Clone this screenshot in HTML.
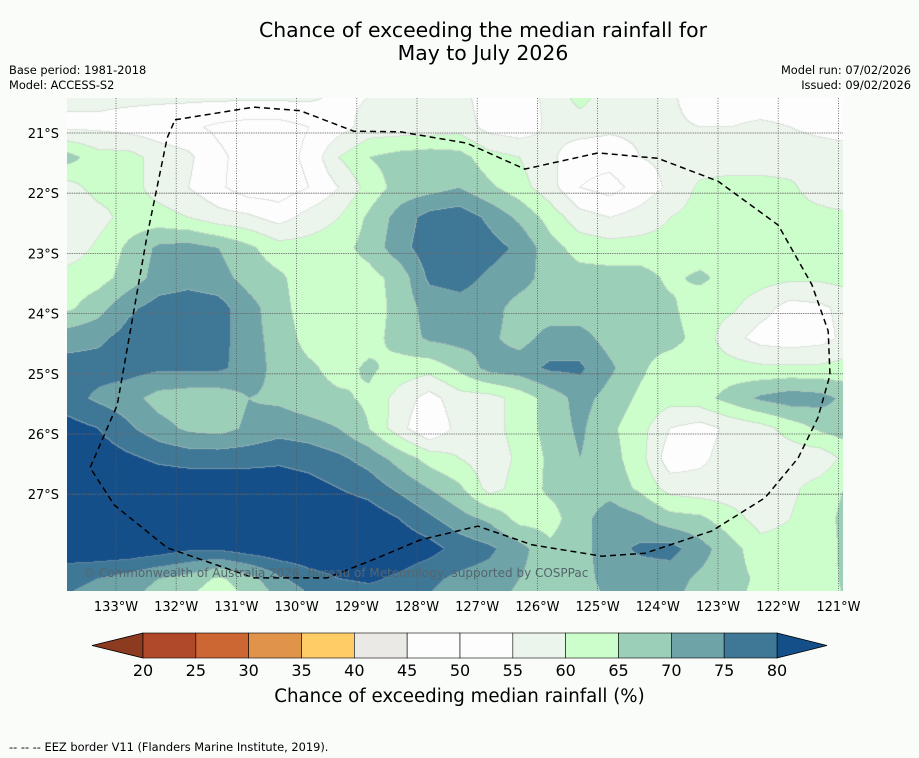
<!DOCTYPE html>
<html><head><meta charset="utf-8">
<style>
body{margin:0;background:#fafcfa;font-family:"DejaVu Sans","Liberation Sans",sans-serif;}
#wrap{position:relative;width:919px;height:758px;overflow:hidden;background:#fafcfa;}
.t{position:absolute;white-space:nowrap;color:#000;}
</style></head><body>
<div id="wrap">
<div class="t" style="left:0;width:966px;text-align:center;top:19px;font-size:20.4px;line-height:23px;">Chance of exceeding the median rainfall for<br>May to July 2026</div>
<div class="t" style="left:9px;top:63px;font-size:11.4px;line-height:15px;">Base period: 1981-2018<br>Model: ACCESS-S2</div>
<div class="t" style="right:8px;top:63px;font-size:11.4px;line-height:15px;text-align:right;">Model run: 07/02/2026<br>Issued: 09/02/2026</div>
<canvas id="map" width="776" height="493" style="position:absolute;left:67px;top:98px;"></canvas>
<svg id="ov" width="919" height="758" style="position:absolute;left:0;top:0;font-family:'DejaVu Sans',sans-serif;"></svg>
<div class="t" style="left:83px;top:566px;font-size:12px;color:#55656d;">© Commonwealth of Australia 2026, Bureau of Meteorology, supported by COSPPac</div>
<div class="t" style="left:0;width:919px;text-align:center;top:686px;font-size:18.2px;">Chance of exceeding median rainfall (%)</div>
<div class="t" style="left:9px;top:740px;font-size:11.4px;">--  --  -- EEZ border V11 (Flanders Marine Institute, 2019).</div>
</div>
<script>
const gridLons=[133.8,133.3,132.8,132.3,131.8,131.3,130.8,130.3,129.8,129.3,128.8,128.3,127.8,127.3,126.8,126.3,125.8,125.3,124.8,124.3,123.8,123.3,122.8,122.3,121.8,121.3,120.8];
const gridLats=[20.4,20.9,21.4,21.9,22.4,22.9,23.4,23.9,24.4,24.9,25.4,25.9,26.4,26.9,27.4,27.9,28.4,28.9];
const chance=[
[56,56,56,56,56,56,56,56,56,54,55,55,55,57,52,53,56,62,57,57,56,52,52,52,52,52,52],
[54,54,53,52,51,49,48,48,50,53,57,57,57,58,53,52,56,57,56,56,56,55,55,56,55,54,53],
[67,62,62,58,56,51,48,48,51,60,65,67,68,67,62,60,56,52,52,55,56,57,57,57,57,57,57],
[58,62,62,58,55,51,47,47,50,55,62,67,68,70,66,62,57,50,48,52,56,61,62,62,61,57,55],
[55,58,62,62,60,57,56,53,57,60,66,72,77,78,74,69,63,57,55,57,60,62,62,62,62,62,61],
[57,61,66,71,72,70,66,62,62,63,67,73,78,78,77,74,67,63,62,62,62,62,62,62,62,61,60],
[62,63,67,72,73,72,68,66,62,62,63,67,76,77,74,72,68,67,67,67,64,66,63,62,61,61,62],
[64,68,74,77,78,77,72,67,62,62,62,67,72,73,72,68,67,67,67,67,66,62,61,57,53,54,57],
[73,74,77,78,78,77,72,68,63,62,63,67,71,72,71,68,72,72,68,67,67,63,57,53,52,53,57],
[77,77,77,76,76,76,73,68,66,63,66,63,62,66,72,73,76,76,71,66,62,62,62,61,61,61,62],
[77,74,72,68,67,67,70,69,67,66,64,58,53,58,58,62,67,72,68,64,62,63,67,71,73,72,68],
[82,80,76,72,69,68,71,73,72,70,65,57,50,57,58,62,67,71,66,62,55,53,56,58,62,66,68],
[84,83,81,79,78,78,78,79,78,76,73,68,63,60,57,61,66,70,67,62,52,54,57,57,57,57,62],
[84,84,84,84,84,84,84,83,82,80,78,74,70,66,58,62,66,67,68,64,58,57,57,57,59,62,66],
[84,84,84,84,84,84,84,84,84,84,83,80,76,72,69,63,63,68,73,71,67,66,62,58,60,63,67],
[84,84,84,83,81,81,83,84,84,84,84,84,82,78,76,72,66,68,73,76,77,72,67,62,62,61,68],
[76,75,73,70,68,64,68,74,78,80,81,79,76,74,73,70,67,68,72,72,72,69,67,64,62,62,67],
[74,73,70,66,63,60,64,68,72,74,75,76,74,72,71,68,67,67,70,70,70,68,66,63,61,61,66]
];
const levels=[20,25,30,35,40,45,50,55,60,65,70,75,80];
const levelColors=["#b0482a","#cc6633","#e0944a","#ffcc66","#ebe9e6","#fcfdfc","#fcfdfc","#ebf5eb","#ccfecc","#9ccfb8","#6ea3a8","#3f7896"];
const lonTicks=[133,132,131,130,129,128,127,126,125,124,123,122,121];
const latTicks=[21,22,23,24,25,26,27];
const eezLons=[132.02,130.71,129.94,129.05,128.28,127.17,126.21,124.99,124.00,123.00,122.00,121.44,121.17,121.14,121.34,121.67,122.22,123.10,124.21,124.93,126.09,126.99,127.95,128.66,129.49,130.71,132.15,133.03,133.43,132.98,132.82,132.49,132.15,132.02];
const eezLats=[20.78,20.57,20.63,20.97,20.98,21.17,21.60,21.33,21.42,21.80,22.53,23.52,24.29,25.02,25.73,26.40,27.06,27.61,27.98,28.03,27.84,27.53,27.76,28.06,28.39,28.39,27.89,27.18,26.56,25.52,24.62,22.74,21.08,20.78];

const X=lon=>116+(133-lon)*60.2;
const Y=lat=>133+(lat-21)*60.2;
const PX=67,PY=98,W=776,H=493;

function binOf(v){let b=0;while(b<levels.length&&v>=levels[b])b++;return b;}
function hex(c){return [parseInt(c.substr(1,2),16),parseInt(c.substr(3,2),16),parseInt(c.substr(5,2),16)];}
const cv=document.getElementById('map');const ctx=cv.getContext('2d');
const img=ctx.createImageData(W,H);
const bins=new Int16Array(W*H);
const nI=gridLons.length,nJ=gridLats.length;
for(let py=0;py<H;py++){
  const lat=21+((py+PY)-133)/60.2;
  let fj=(lat-gridLats[0])/(gridLats[1]-gridLats[0]);fj=Math.max(0,Math.min(nJ-1.001,fj));
  const j=Math.floor(fj),tj=fj-j;
  for(let px=0;px<W;px++){
    const lon=133-((px+PX)-116)/60.2;
    let fi=(gridLons[0]-lon)/(gridLons[0]-gridLons[1]);fi=Math.max(0,Math.min(nI-1.001,fi));
    const i=Math.floor(fi),ti=fi-i;
    const v=(chance[j][i]*(1-ti)+chance[j][i+1]*ti)*(1-tj)+(chance[j+1][i]*(1-ti)+chance[j+1][i+1]*ti)*tj;
    bins[py*W+px]=binOf(v);
  }
}
const bg=hex("#154f8a");const lo=hex("#8c3a20");
for(let py=0;py<H;py++)for(let px=0;px<W;px++){
  const b=bins[py*W+px];let c;
  if(b===0)c=lo;else if(b>=levels.length)c=bg;else c=hex(levelColors[b-1]);
  const edge=(px<W-1&&bins[py*W+px+1]!==b)||(py<H-1&&bins[(py+1)*W+px]!==b);
  const k=(py*W+px)*4;
  if(edge){c=[Math.round(c[0]*0.55+190*0.45),Math.round(c[1]*0.55+196*0.45),Math.round(c[2]*0.55+190*0.45)];}
  img.data[k]=c[0];img.data[k+1]=c[1];img.data[k+2]=c[2];img.data[k+3]=255;
}
ctx.putImageData(img,0,0);

const NS='http://www.w3.org/2000/svg';const ov=document.getElementById('ov');
function mk(tag,attrs){const e=document.createElementNS(NS,tag);for(const k in attrs)e.setAttribute(k,attrs[k]);ov.appendChild(e);return e;}
lonTicks.forEach(l=>{
  const ln=mk('line',{x1:X(l),x2:X(l),y1:PY,y2:PY+H,stroke:'#555','stroke-width':0.8,'stroke-dasharray':'1,1.5'});
  
  
  const t=mk('text',{x:X(l),y:611,'text-anchor':'middle','font-size':13,fill:'#000'});
  t.textContent=l+'°W';
  
  
});
latTicks.forEach(l=>{
  const ln=mk('line',{x1:PX,x2:PX+W,y1:Y(l),y2:Y(l),stroke:'#666','stroke-width':0.8,'stroke-dasharray':'1.5,0.8'});
  
  
  const t=mk('text',{x:59,y:Y(l)+5,'text-anchor':'end','font-size':13,fill:'#000'});
  t.textContent=l+'°S';
  
  
});
let d='';eezLons.forEach((l,k)=>{d+=(k?'L':'M')+X(l).toFixed(1)+','+Y(eezLats[k]).toFixed(1);});
const eez=mk('path',{d:d,fill:'none',stroke:'#000','stroke-width':1.5,'stroke-dasharray':'6,4'});


const cbL=143,cbR=777,cbT=633,cbB=658,seg=(cbR-cbL)/(levels.length-1);
const la=mk('polygon',{points:`92,${(cbT+cbB)/2} ${cbL},${cbT} ${cbL},${cbB}`,fill:'#8c3a20',stroke:'#000','stroke-width':0.8});


const ra=mk('polygon',{points:`827,${(cbT+cbB)/2} ${cbR},${cbT} ${cbR},${cbB}`,fill:'#154f8a',stroke:'#000','stroke-width':0.8});


levelColors.forEach((c,k)=>{
  const r=mk('rect',{x:cbL+k*seg,y:cbT,width:seg,height:cbB-cbT,fill:c,stroke:'#000','stroke-width':0.6});
  
  
});
levels.forEach((v,k)=>{
  const t=mk('text',{x:cbL+k*seg,y:676,'text-anchor':'middle','font-size':16,fill:'#000'});
  t.textContent=v;
  
  
});
</script>
</body></html>
